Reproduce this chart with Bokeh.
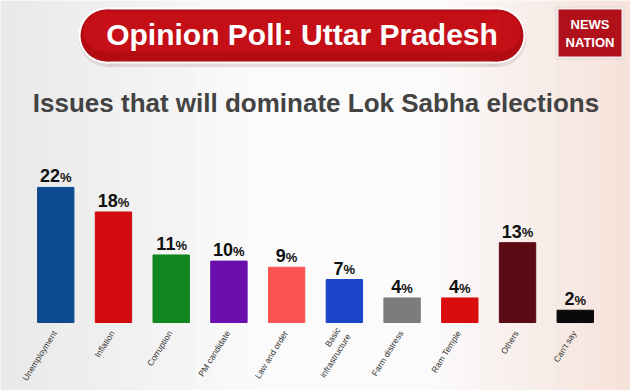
import numpy as np
from bokeh.plotting import figure
from bokeh.models import FactorRange, Range1d, ColumnDataSource
from bokeh.core.properties import value
from bokeh.embed import file_html
from bokeh.resources import INLINE

# ---- data ----
categories = ["Unemployment", "Inflation", "Corruption", "PM candidate", "Law and order",
              "Basic\ninfrastructure", "Farm distress", "Ram Temple", "Others", "Can't say"]
values = [22, 18, 11, 10, 9, 7, 4, 4, 13, 2]
bar_colors = ["#0e4a8e", "#d10b0e", "#12861f", "#6a0fab", "#fb5252",
              "#1b45c9", "#7c7c7c", "#d80b0d", "#5c0b15", "#0a0a0a"]
header_text = "Opinion Poll: Uttar Pradesh"
title_text = "Issues that will dominate Lok Sabha elections"
logo_lines = ["NEWS", "NATION"]

W, H = 630, 390
PAD = 0.457
Y0, Y1 = -11.07, 52.44
p = figure(width=W, height=H,
           x_range=FactorRange(factors=categories, range_padding=PAD,
                               range_padding_units="absolute"),
           y_range=Range1d(Y0, Y1),
           x_axis_location=None, y_axis_location=None,
           output_backend="svg", toolbar_location=None, min_border=0)
p.outline_line_color = None
p.xgrid.visible = False
p.ygrid.visible = False
p.background_fill_color = "#f7f6f5"
p.border_fill_color = "#f7f6f5"
p.extra_y_ranges = {"px": Range1d(H, 0)}

# decorative layout helpers: pixel -> synthetic x coordinate
SPAN = len(categories) + 2 * PAD
PX_PER_UNIT_Y = H / (Y1 - Y0)
def fx(px):
    return -PAD + np.asarray(px, dtype=float) * SPAN / W
def fw(pw):
    return np.asarray(pw, dtype=float) * SPAN / W
PY = dict(y_range_name="px")

# ---- background wash (decorative) ----
def mix(c1, c2, t):
    a = np.array([int(c1[i:i + 2], 16) for i in (1, 3, 5)])
    b = np.array([int(c2[i:i + 2], 16) for i in (1, 3, 5)])
    c = (a + (b - a) * t).round().astype(int)
    return "#%02x%02x%02x" % tuple(c)

n = 42
edges = np.linspace(0, W, n + 1)
cols = []
for i in range(n):
    t = (i + 0.5) / n
    if t < 0.42:
        cols.append(mix("#e8e8e8", "#fbfbfb", t / 0.42))
    elif t < 0.68:
        cols.append("#fbfbfb")
    else:
        cols.append(mix("#fbfbfb", "#f5e1d9", (t - 0.68) / 0.32))
p.quad(left=list(fx(edges[:-1])), right=list(fx(edges[1:] + 0.5)), top=0, bottom=H,
       fill_color=cols, line_color=None, **PY)

# ---- header pill ----
def pill(cx, cy, w, h, color, alpha=1.0):
    p.rect(x=[float(fx(cx))], y=[cy], width=[float(fw(w - h))], height=[h],
           fill_color=color, line_color=None, fill_alpha=alpha, **PY)
    p.ellipse(x=list(fx([cx - (w - h) / 2, cx + (w - h) / 2])), y=[cy, cy],
              width=float(fw(h)), height=h,
              fill_color=color, line_color=None, fill_alpha=alpha, **PY)

pill(302, 37.5, 448, 58, "#d6c8c8", 0.6)
pill(301.5, 35, 447, 56, "#ffffff")
pill(301.5, 35, 443, 52, "#b30b12")
pill(301.5, 31, 437, 40, "#c9121a", 0.75)
p.text(x=[float(fx(301.5))], y=[33.5], text=[header_text], text_align="center",
       text_baseline="middle", text_font=value("Liberation Sans"),
       text_font_style="bold", text_font_size="30px", text_color="#ffffff", **PY)

# ---- logo ----
p.rect(x=[float(fx(589.5))], y=[32.5], width=[float(fw(68))], height=[52],
       fill_color="#f4ecea", line_color="#e4d6d4", **PY)
p.rect(x=[float(fx(589.5))], y=[32.5], width=[float(fw(63))], height=[47],
       fill_color="#b0111a", line_color=None, **PY)
p.text(x=[float(fx(589.5))] * 2, y=[23.5, 41.5], text=logo_lines, text_align="center",
       text_baseline="middle", text_font=value("Liberation Sans"),
       text_font_style="bold", text_font_size="13px", text_color="#ffffff", **PY)

# ---- title ----
p.text(x=[float(fx(315.5))], y=[102], text=[title_text], text_align="center",
       text_baseline="middle", text_font=value("Liberation Sans"),
       text_font_style="bold", text_font_size="26px", text_color="#434343", **PY)

# ---- bars ----
num_txt = [str(v) for v in values]
offs = [(len(s) * 10.0 - 11.6) / 2 for s in num_txt]
num_y = [v + 11.5 / PX_PER_UNIT_Y for v in values]   # digit centre above bar top
pct_y = [v + 9.7 / PX_PER_UNIT_Y for v in values]    # % sign shares the digits' baseline
src = ColumnDataSource(dict(cat=categories, val=values, color=bar_colors,
                            numy=num_y, pcty=pct_y,
                            num=num_txt, pct=["%"] * len(values), off=offs))
p.vbar(x="cat", top="val", bottom=0, width=0.63, fill_color="color",
       line_color="color", source=src)

p.text(x="cat", y="numy", text="num", x_offset="off",
       text_align="right", text_baseline="middle",
       text_font=value("Liberation Sans"), text_font_style="bold",
       text_font_size="18px", text_color="#111111", source=src)
p.text(x="cat", y="pcty", text="pct", x_offset="off",
       text_align="left", text_baseline="middle",
       text_font=value("Liberation Sans"), text_font_style="bold",
       text_font_size="13px", text_color="#111111", source=src)

# ---- category labels ----
p.text(x="cat", y=0, text="cat", angle=58, angle_units="deg", x_offset=-1,
       y_offset=9, text_align="right", text_baseline="middle",
       text_font=value("Liberation Sans"), text_font_size="8.5px",
       text_color="#333333", source=src)

open("out.html", "w").write(file_html(p, INLINE))
